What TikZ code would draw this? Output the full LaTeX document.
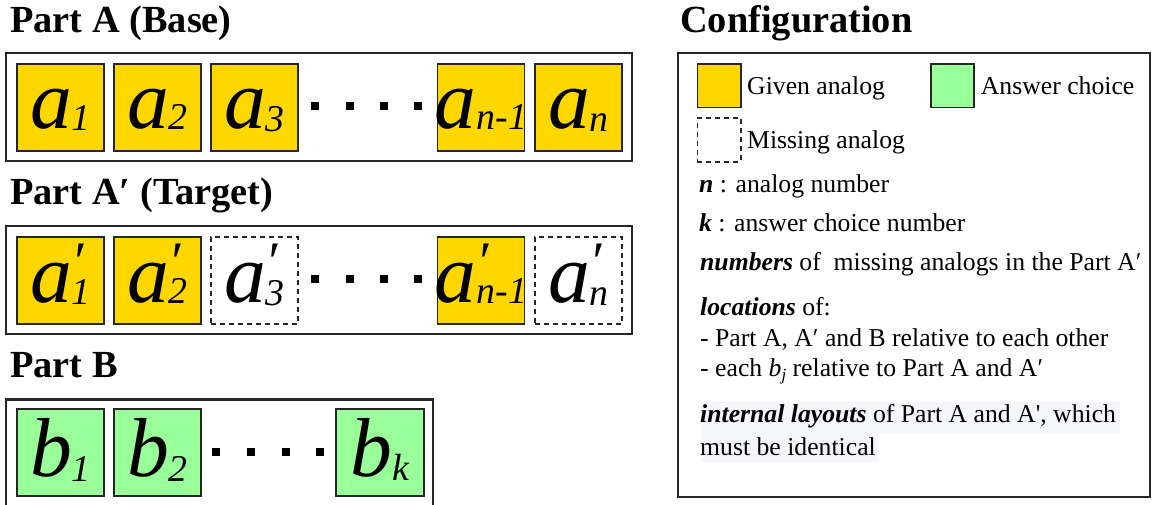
\documentclass[tikz,border=0pt]{standalone}
\usepackage{fontspec}
\setmainfont{Liberation Serif}
\definecolor{gold}{RGB}{255,215,0}
\definecolor{lgreen}{RGB}{153,255,153}
\definecolor{hl}{RGB}{246,247,250}
\newcommand{\boxlbl}[4]{{\fontsize{84}{84}\selectfont\itshape #1}{\fontsize{38}{38}\selectfont\itshape\rlap{\raisebox{22bp}{\fontsize{56}{56}\selectfont #3}}\raisebox{-#4}{#2}}}
\tikzset{
 frame/.style={draw=black!85, line width=2bp},
 anbox/.style={draw=black!85, line width=1.8bp, minimum width=87bp, minimum height=87bp, inner sep=0pt},
 given/.style={anbox, fill=gold},
 answer/.style={anbox, fill=lgreen},
 missing/.style={anbox, dash pattern=on 5bp off 4bp},
 legbox/.style={draw=black!85, line width=1.8bp, minimum size=43.5bp, inner sep=0pt},
 dotsq/.style={fill=black, minimum size=8bp, inner sep=0pt},
 title/.style={anchor=base west, inner sep=0pt, font=\fontsize{38.5}{40}\selectfont\bfseries},
 cfg/.style={anchor=base west, inner sep=0pt, font=\fontsize{25.8}{30}\selectfont},
 lbl/.style={anchor=base, inner sep=0pt},
}
\begin{document}
\begin{tikzpicture}[x=1bp,y=-1bp]
\useasboundingbox (0,0) rectangle (1153,505);
% titles
\node[title] (tA) at (10,33) {Part A (Base)};
\node[title] (tAp) at (10,205) {Part A′ (Target)};
\node[title] (tB) at (10,378) {Part B};
\node[title] (tC) at (680,33) {Configuration};
% frames
\draw[frame] (6,53) rectangle (632,161);
\draw[frame] (6,226) rectangle (632,334);
\draw[frame] (6,399.5) rectangle (433,540);
\draw[frame] (677.5,53) rectangle (1150,496.5);
% Part A
\node[given] (a1) at (60.5,107.5) {};
\node[given] (a2) at (157.5,107.5) {};
\node[given] (a3) at (254.5,107.5) {};
\node[given] (an1) at (481,107.5) {};
\node[given] (an) at (578.5,107.5) {};
\node[lbl] at ([yshift=-21bp]a1.center) {\boxlbl{a}{1}{}{2bp}};
\node[lbl] at ([yshift=-21bp]a2.center) {\boxlbl{a}{2}{}{1bp}};
\node[lbl] at ([yshift=-21bp]a3.center) {\boxlbl{a}{3}{}{3bp}};
\node[lbl] at ([yshift=-21bp]an1.center) {\boxlbl{a}{n-1}{}{1bp}};
\node[lbl] at ([yshift=-21bp]an.center) {\boxlbl{a}{n}{}{3bp}};
\foreach \x [count=\i] in {314.7,349.5,383.8,418}
  \node[dotsq] (dA\i) at (\x,106) {};
% Part A'
\node[given] (b1p) at (60.5,280.5) {};
\node[given] (b2p) at (157.5,280.5) {};
\node[missing] (b3p) at (254.5,280.5) {};
\node[given] (bn1p) at (481,280.5) {};
\node[missing] (bnp) at (578.5,280.5) {};
\node[lbl] at ([yshift=-22bp]b1p.center) {\boxlbl{a}{1}{′}{2bp}};
\node[lbl] at ([yshift=-22bp]b2p.center) {\boxlbl{a}{2}{′}{1bp}};
\node[lbl] at ([yshift=-22bp]b3p.center) {\boxlbl{a}{3}{′}{3bp}};
\node[lbl] at ([yshift=-22bp]bn1p.center) {\boxlbl{a}{n-1}{′}{1bp}};
\node[lbl] at ([yshift=-22bp]bnp.center) {\boxlbl{a}{n}{′}{3bp}};
\foreach \x [count=\i] in {314.7,349.5,383.8,418}
  \node[dotsq] (dAp\i) at (\x,279) {};
% Part B
\node[answer] (c1) at (60.5,452.75) {};
\node[answer] (c2) at (157.5,452.75) {};
\node[answer, minimum width=88bp] (ck) at (380,452.75) {};
\node[lbl] at ([yshift=-24bp]c1.center) {\boxlbl{b}{1}{}{5bp}};
\node[lbl] at ([yshift=-24bp]c2.center) {\boxlbl{b}{2}{}{5bp}};
\node[lbl] at ([yshift=-24bp]ck.center) {\boxlbl{b}{k}{}{4bp}};
\foreach \x [count=\i] in {216,250.7,286,320}
  \node[dotsq] (dB\i) at (\x,452) {};
% Configuration legend
\node[legbox, fill=gold] (lg) at (719.2,85.7) {};
\node[legbox, fill=lgreen] (lgr) at (952.5,85.7) {};
\node[legbox, dash pattern=on 5bp off 4bp] (lm) at (719.2,140) {};
\node[cfg] (tg) at (747,95) {Given analog};
\node[cfg] (tgr) at (980.7,95) {Answer choice};
\node[cfg] (tm) at (747,149) {Missing analog};
\node[cfg] (tn) at (699,193) {\textbf{\textit{n}} : analog number};
\node[cfg] (tk) at (699,232) {\textbf{\textit{k}} : answer choice number};
\node[cfg] (tnum) at (700,271) {\textbf{\textit{numbers}} of\ \ missing analogs in the Part A′};
\node[cfg] (tloc) at (700,316) {\textbf{\textit{locations}} of:};
\node[cfg] (tl1) at (700,347) {- Part A, A′ and B relative to each other};
\node[cfg] (tl2) at (700,377) {- each \textit{b}\raisebox{-4bp}{\fontsize{17}{17}\selectfont\itshape j} relative to Part A and A′};
\fill[hl] (701,402) rectangle (1120,434);
\fill[hl] (701,433) rectangle (878,462);
\node[cfg] (ti1) at (700,422) {\textbf{\textit{internal layouts}} of Part A and A\textquotesingle, which};
\node[cfg] (ti2) at (700,455) {must be identical};
\end{tikzpicture}
\end{document}
